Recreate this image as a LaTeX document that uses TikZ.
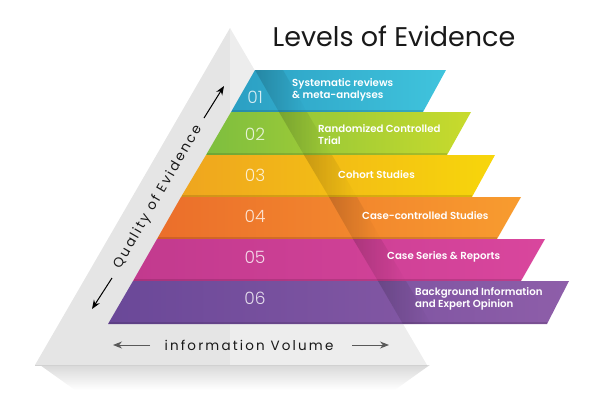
\documentclass[tikz,border=0pt]{standalone}
\usepackage{fontspec}
\setmainfont{Poppins}
\newfontfamily\thinfont{Poppins Light}
\newfontfamily\midfont{Poppins SemiBold}
\usetikzlibrary{arrows.meta,fadings}
\definecolor{oneL}{HTML}{2B9FC3}
\definecolor{oneR}{HTML}{40C4DD}
\definecolor{twoL}{HTML}{7DBE3F}
\definecolor{twoR}{HTML}{C9DB2C}
\definecolor{threeL}{HTML}{EFA51F}
\definecolor{threeR}{HTML}{F7D60B}
\definecolor{fourL}{HTML}{EB6E2B}
\definecolor{fourR}{HTML}{F89C2F}
\definecolor{fiveL}{HTML}{C23A8E}
\definecolor{fiveR}{HTML}{D9469D}
\definecolor{sixL}{HTML}{6A4898}
\definecolor{sixR}{HTML}{8E5EA9}
\tikzstyle{tiernum}=[font=\thinfont\fontsize{17}{17}\selectfont,text=white,text opacity=0.8]
\tikzstyle{tier}=[font=\midfont\fontsize{10.2}{12}\selectfont,text=white,align=left,anchor=west,inner sep=0pt]
\tikzstyle{axis}=[font=\fontsize{13.5}{13.5}\selectfont\addfontfeature{LetterSpace=16},text=black!90]
\tikzstyle{title}=[font=\fontsize{27}{27}\selectfont,text=black!90]
\tikzstyle{edge}=[draw,line width=1pt,-{Stealth[length=9pt,width=7pt]}]
\tikzstyle{edgeshadow}=[fill=black,opacity=0.17,path fading=east]

\begin{document}
\begin{tikzpicture}[x=1pt,y=-1pt]
\useasboundingbox (0,0) rectangle (600,416);
% grey pyramid and its shadow
\fill[gray,opacity=0.3,path fading=south] (40,365) -- (430,365) -- (395,390) -- (75,390) -- cycle;
\fill[black!10] (230,28) -- (35,365) -- (230,365) -- cycle;
\fill[black!7] (230,28) -- (230,365) -- (427,365) -- cycle;
\draw[black!18] (35,365) -- (427,365);

% bands
\shade[left color=oneL,right color=oneR] (255,70) -- (446,70) -- (423,112) -- (231,112) -- cycle;
\shade[left color=twoL,right color=twoR] (231,112) -- (471,112) -- (447,155) -- (206,155) -- cycle;
\shade[left color=threeL,right color=threeR] (206,155) -- (495,155) -- (472,197) -- (181,197) -- cycle;
\shade[left color=fourL,right color=fourR] (181,197) -- (521,197) -- (497,239) -- (157,239) -- cycle;
\shade[left color=fiveL,right color=fiveR] (157,239) -- (545,239) -- (521,281) -- (133,281) -- cycle;
\shade[left color=sixL,right color=sixR] (133,281) -- (569,281) -- (547,324) -- (108,324) -- cycle;
\fill[edgeshadow] (255,70) -- (283,70) -- (307,112) -- (279,112) -- cycle;
\fill[edgeshadow] (279,112) -- (307,112) -- (332,155) -- (304,155) -- cycle;
\fill[edgeshadow] (304,155) -- (332,155) -- (357,197) -- (329,197) -- cycle;
\fill[edgeshadow] (329,197) -- (357,197) -- (381,239) -- (353,239) -- cycle;
\fill[edgeshadow] (353,239) -- (381,239) -- (406,281) -- (378,281) -- cycle;
\fill[edgeshadow] (378,281) -- (406,281) -- (431,324) -- (403,324) -- cycle;
% darker lower rims
\draw[black,opacity=0.12,line width=2pt] (232,111) -- (423,111);
\draw[black,opacity=0.12,line width=2pt] (207,154) -- (447,154);
\draw[black,opacity=0.12,line width=2pt] (182,196) -- (472,196);
\draw[black,opacity=0.12,line width=2pt] (158,238) -- (497,238);
\draw[black,opacity=0.12,line width=2pt] (134,280) -- (521,280);
\draw[black,opacity=0.12,line width=2pt] (109,323) -- (547,323);

\node[title] (t) at (394,36) {Levels of Evidence};

\node[tiernum] (1) at (255,97) {01};
\node[tiernum] (2) at (255,134) {02};
\node[tiernum] (3) at (255,175) {03};
\node[tiernum] (4) at (255,216) {04};
\node[tiernum] (5) at (255,257) {05};
\node[tiernum] (6) at (255,298) {06};

\node[tier] (11) at (292,90) {Systematic reviews\\\& meta-analyses};
\node[tier] (12) at (318,135) {Randomized Controlled\\Trial};
\node[tier] (13) at (338,175) {Cohort Studies};
\node[tier] (14) at (362,216) {Case-controlled Studies};
\node[tier] (15) at (387,257) {Case Series \& Reports};
\node[tier] (16) at (415,299) {Background Information\\and Expert Opinion};

% axes
\node[axis,rotate=60] (q) at (158,197) {Quality of Evidence};
\coordinate (qa) at (204,118);
\coordinate (qb) at (224,86);
\coordinate (qc) at (112,278);
\coordinate (qd) at (92,309);
\path[edge] (qa) -- (qb);
\path[edge] (qc) -- (qd);

\node[axis] (v) at (249,345) {information Volume};
\coordinate (va) at (150,345);
\coordinate (vb) at (113,345);
\coordinate (vc) at (352,345);
\coordinate (vd) at (389,345);
\path[edge,draw=black!65] (va) -- (vb);
\path[edge,draw=black!65] (vc) -- (vd);
\end{tikzpicture}
\end{document}
